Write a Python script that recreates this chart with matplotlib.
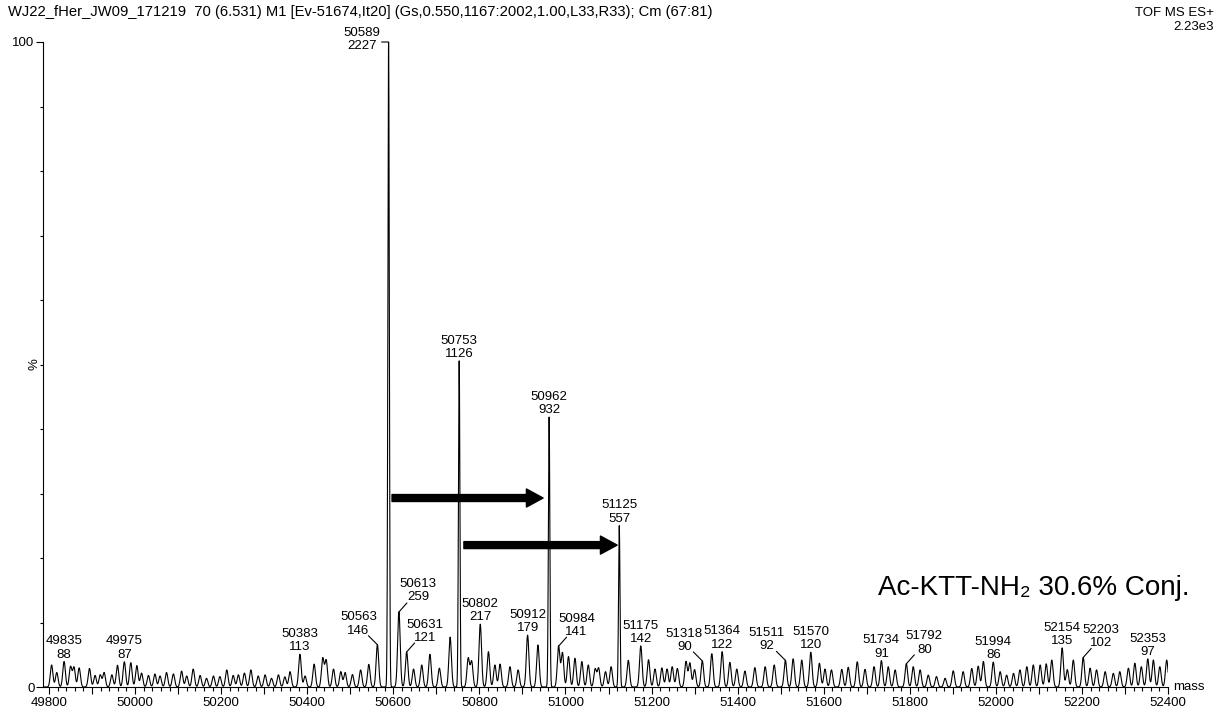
import numpy as np
import matplotlib
matplotlib.use("Agg")
import matplotlib.pyplot as plt
from matplotlib.ticker import MultipleLocator, FixedLocator, FuncFormatter
from matplotlib.patches import ArrowStyle

plt.rcParams['font.family'] = ['Liberation Sans', 'DejaVu Sans']

# Intensity at 100 % (counts)
full_scale = 2227

# Labelled peaks (mass, counts)
label_mass = [49835, 49975, 50383, 50563, 50589, 50613, 50631, 50753, 50802,
              50912, 50962, 50984, 51125, 51175, 51318, 51364, 51511, 51570,
              51734, 51792, 51994, 52154, 52203, 52353]
label_counts = [88, 87, 113, 146, 2227, 259, 121, 1126, 217,
                179, 932, 141, 557, 142, 90, 122, 92, 120,
                91, 80, 86, 135, 102, 97]

# Unlabelled peaks of the baseline (mass, counts)
noise_mass = [49806, 49818, 49850, 49858, 49870, 49894, 49907, 49919, 49928,
              49946, 49959, 49990, 50004, 50015, 50031, 50046, 50058, 50073,
              50089, 50108, 50120, 50135, 50151, 50166, 50182, 50197, 50213,
              50228, 50240, 50254, 50269, 50286, 50302, 50317, 50333, 50348,
              50360, 50395, 50416, 50436, 50444, 50461, 50478, 50488, 50505,
              50524, 50543, 50647, 50666, 50685, 50707, 50732, 50774, 50782,
              50821, 50836, 50848, 50871, 50890, 50936, 50993, 51007, 51022,
              51038, 51053, 51069, 51077, 51093, 51106, 51146, 51193, 51208,
              51224, 51236, 51248, 51260, 51280, 51289, 51300, 51340, 51382,
              51398, 51417, 51440, 51464, 51485, 51529, 51549, 51590, 51603,
              51618, 51642, 51657, 51678, 51696, 51717, 51750, 51766, 51808,
              51824, 51843, 51862, 51882, 51901, 51924, 51944, 51959, 51971,
              52010, 52025, 52041, 52056, 52072, 52087, 52103, 52117, 52130,
              52166, 52180, 52219, 52234, 52254, 52273, 52288, 52308, 52323,
              52338, 52366, 52381, 52397]
noise_counts = [76, 50, 70, 68, 66, 64, 40, 42, 50,
                42, 75, 84, 74, 48, 40, 45, 38, 50,
                45, 55, 38, 62, 40, 30, 38, 36, 59,
                40, 42, 48, 59, 38, 42, 30, 42, 35,
                53, 38, 79, 99, 92, 62, 53, 50, 43,
                59, 78, 62, 76, 113, 65, 172, 99, 88,
                122, 76, 79, 70, 59, 145, 118, 105, 99,
                88, 76, 62, 65, 53, 70, 92, 94, 62,
                66, 62, 70, 64, 88, 83, 60, 115, 85,
                62, 55, 67, 70, 76, 97, 93, 82, 62,
                59, 61, 68, 87, 61, 70, 70, 59, 70,
                59, 41, 36, 30, 56, 53, 64, 72, 88,
                53, 41, 47, 59, 70, 76, 76, 80, 93,
                60, 93, 65, 59, 53, 47, 53, 65, 82,
                70, 93, 70, 93]

x_ticks = [49800, 50000, 50200, 50400, 50600, 50800, 51000, 51200,
           51400, 51600, 51800, 52000, 52200, 52400]

title_left = ("WJ22_fHer_JW09_171219  70 (6.531) M1 [Ev-51674,It20] "
              "(Gs,0.550,1167:2002,1.00,L33,R33); Cm (67:81)")
title_right = "TOF MS ES+\n2.23e3"
note = "Ac-KTT-NH\u2082 30.6% Conj."

# label placement (pixels from the peak top) for labels pulled aside
label_shift = {50563: (-19, 8), 50589: (-27, -10), 50613: (19, 9),
               50631: (18, 8), 50984: (18, 8), 51318: (-18, 8),
               51511: (-19, 8), 51792: (18, 8), 52203: (18, 8)}

# arrows: (start mass, end mass, height %)
arrows = [(50597, 50948, 29.3), (50764, 51120, 22.0)]

# ---- profile built from the peak list ----
peak_mass = np.array(label_mass + noise_mass, dtype=float)
peak_counts = np.array(label_counts + noise_counts, dtype=float)
sigma_major, sigma_minor = 1.7, 3.0
mz = np.arange(49786, 52406, 0.25)
profile = np.zeros_like(mz)
for m, c in zip(peak_mass, peak_counts):
    s = sigma_major if c > 400 else sigma_minor
    profile += c * np.exp(-0.5 * ((mz - m) / s) ** 2)
percent = profile / full_scale * 100

fig = plt.figure(figsize=(12.21, 7.09), dpi=100)
ax = fig.add_axes([43 / 1221, 22 / 709, 1125 / 1221, 645 / 709])
ax.plot(mz, percent, color='black', lw=0.8)
ax.set_xlim(49786, 52400)
ax.set_ylim(0, 100)

for s in ('top', 'right'):
    ax.spines[s].set_visible(False)
for s in ('left', 'bottom'):
    ax.spines[s].set_linewidth(0.8)

ax.xaxis.set_major_locator(MultipleLocator(100))
ax.xaxis.set_minor_locator(MultipleLocator(20))
ax.xaxis.set_major_formatter(FuncFormatter(
    lambda v, p: f"{int(round(v))}" if int(round(v)) in x_ticks else ""))
ax.yaxis.set_major_locator(FixedLocator([0, 100]))
ax.yaxis.set_minor_locator(MultipleLocator(10))
ax.tick_params(axis='x', which='major', length=5, width=0.8, pad=2, labelsize=9.5)
ax.tick_params(axis='x', which='minor', length=2.6, width=0.8)
ax.tick_params(axis='y', which='major', length=5, width=0.8, pad=1, labelsize=9.5)
ax.tick_params(axis='y', which='minor', length=2.4, width=0.8)
ax.set_ylabel('%', fontsize=9.5)
ax.yaxis.set_label_coords(-2 / 1125, 0.5)

fig.text(8 / 1221, 1 - 12 / 709, title_left, fontsize=10.65, va='center', ha='left')
fig.text(1214 / 1221, 1 - 20 / 709, title_right, fontsize=9.5, va='center',
         ha='right', multialignment='right', linespacing=1.15)
fig.text(1190 / 1221, 1 - 588 / 709, note, fontsize=20, ha='right', va='center')
ax.text(1.005, 0.0, 'mass', transform=ax.transAxes, fontsize=9.5,
        ha='left', va='center')

for m, c in zip(label_mass, label_counts):
    y = c / full_scale * 100
    dx, dy = label_shift.get(m, (0, 1))
    ax.annotate(f"{m}\n{c}", xy=(m, y), xytext=(dx, dy),
                textcoords='offset pixels', ha='center', va='bottom',
                fontsize=9.5, linespacing=1.15, annotation_clip=False)
    if m in label_shift:
        if dy < 0:
            lx, ly = -7, 0
        else:
            lx, ly = (8 if dx > 0 else -9), 9
        ax.annotate('', xy=(m, y), xytext=(lx, ly), textcoords='offset pixels',
                    arrowprops=dict(arrowstyle='-', lw=0.8, color='black',
                                    shrinkA=0, shrinkB=0))

for x0, x1, h in arrows:
    ax.annotate('', xy=(x1, h), xytext=(x0, h),
                arrowprops=dict(arrowstyle=ArrowStyle.Simple(
                    head_length=12, head_width=13, tail_width=5),
                    mutation_scale=1, color='black', shrinkA=0, shrinkB=0))

fig.savefig('out.png', dpi=100, facecolor='white')
